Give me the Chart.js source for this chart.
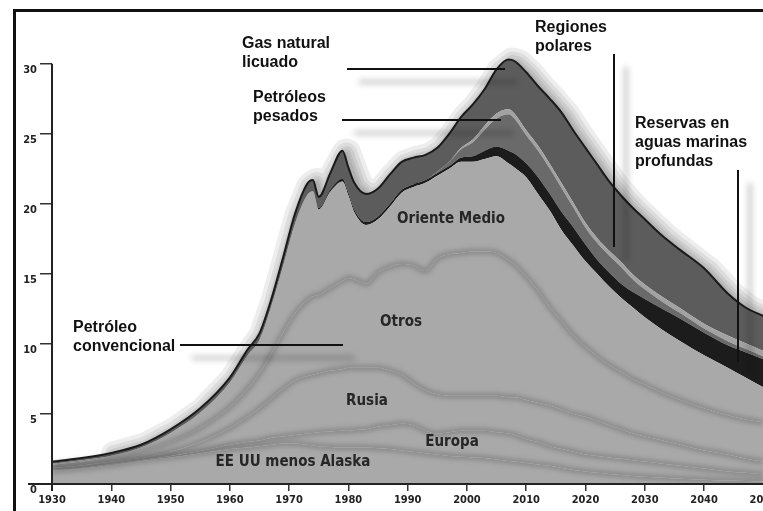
<!DOCTYPE html>
<html lang="es">
<head>
<meta charset="UTF-8">
<title>Producción mundial de petróleo</title>
<script src="https://cdn.jsdelivr.net/npm/chart.js"></script>
<style>
  html, body { margin: 0; padding: 0; overflow: hidden; background: #fff; }
  #wrap { width: 790px; height: 511px; }
</style>
</head>
<body>
<div id="wrap"><canvas id="petroleoChart" width="790" height="511"></canvas></div>
<script>
// Años del eje x
const anios = [1930, 1935, 1940, 1945, 1950, 1955, 1960, 1963, 1965, 1967, 1969, 1971, 1973, 1974, 1975, 1977, 1979,
  1980, 1981, 1983, 1985, 1987, 1989, 1991, 1993, 1995, 1997, 1999, 2001, 2003, 2005, 2007, 2008,
  2010, 2012, 2014, 2016, 2018, 2020, 2022, 2024, 2026, 2028, 2030, 2033, 2036, 2040, 2044, 2047, 2050];

// Petróleo convencional, por región (miles de millones de barriles al año)
const eeuuMenosAlaska = [0.95, 1.1, 1.35, 1.65, 1.9, 2.2, 2.5, 2.6, 2.7, 2.8, 2.9, 2.9, 2.8, 2.75, 2.7, 2.65, 2.6,
  2.6, 2.6, 2.6, 2.55, 2.5, 2.4, 2.3, 2.2, 2.1, 2.0, 1.95, 1.9, 1.85, 1.75, 1.65, 1.6,
  1.5, 1.4, 1.3, 1.15, 1.0, 0.9, 0.8, 0.72, 0.65, 0.58, 0.52, 0.45, 0.38, 0.3, 0.25, 0.22, 0.2];
const europa = [0.05, 0.05, 0.07, 0.07, 0.1, 0.15, 0.3, 0.4, 0.4, 0.5, 0.5, 0.6, 0.8, 0.9, 1.0, 1.1, 1.2,
  1.2, 1.25, 1.3, 1.55, 1.7, 1.9, 1.9, 1.6, 1.5, 1.7, 1.85, 1.9, 1.95, 1.95, 1.95, 1.9,
  1.7, 1.6, 1.4, 1.35, 1.3, 1.2, 1.2, 1.18, 1.15, 1.12, 1.08, 1.0, 0.92, 0.8, 0.65, 0.58, 0.5];
const rusia = [0.15, 0.17, 0.18, 0.13, 0.3, 0.65, 1.2, 1.8, 2.3, 2.8, 3.4, 3.9, 4.1, 4.15, 4.2, 4.35, 4.4,
  4.5, 4.45, 4.4, 4.2, 3.9, 3.5, 3.0, 2.9, 2.8, 2.6, 2.5, 2.5, 2.5, 2.6, 2.6, 2.7,
  2.8, 2.8, 2.9, 2.8, 2.7, 2.7, 2.5, 2.3, 2.1, 1.9, 1.8, 1.65, 1.5, 1.3, 1.2, 1.0, 0.9];
const otros = [0.23, 0.28, 0.3, 0.5, 0.7, 1.0, 1.5, 2.0, 2.5, 3.2, 4.0, 4.8, 5.4, 5.6, 5.6, 5.9, 6.3,
  6.4, 6.3, 6.0, 6.8, 7.4, 7.9, 8.4, 8.5, 9.7, 10.1, 10.2, 10.3, 10.3, 10.2, 9.8, 9.5,
  8.8, 8.0, 7.0, 6.3, 5.6, 5.0, 4.6, 4.3, 4.1, 3.9, 3.7, 3.4, 3.2, 3.0, 2.8, 2.8, 2.8];
const orienteMedio = [0.07, 0.1, 0.12, 0.25, 0.65, 1.1, 1.75, 2.4, 2.4, 3.4, 4.8, 6.4, 7.5, 7.5, 6.1, 6.9, 7.1,
  5.9, 4.8, 4.2, 3.8, 4.3, 5.1, 5.6, 6.3, 5.9, 6.1, 6.5, 6.4, 6.6, 6.9, 6.9, 6.9,
  7.1, 6.9, 6.9, 6.5, 6.4, 6.1, 5.9, 5.6, 5.3, 5.1, 4.8, 4.5, 4.2, 3.8, 3.4, 3.0, 2.5];

// Petróleo no convencional
const aguasProfundas = [0, 0, 0, 0, 0, 0, 0, 0, 0, 0, 0, 0, 0, 0, 0.1, 0.15, 0.2,
  0.2, 0.2, 0.2, 0.2, 0.2, 0.2, 0.2, 0.2, 0.2, 0.2, 0.3, 0.4, 0.6, 0.7, 0.9, 1.0,
  1.0, 1.2, 1.2, 1.3, 1.3, 1.2, 1.0, 1.0, 1.0, 1.1, 1.3, 1.5, 1.6, 1.6, 1.6, 1.8, 2.0];
const pesados = [0, 0, 0, 0, 0, 0, 0, 0, 0, 0, 0, 0, 0, 0, 0, 0, 0,
  0, 0, 0, 0, 0, 0, 0, 0, 0.1, 0.3, 0.6, 1.0, 1.5, 2.0, 2.6, 2.5,
  2.0, 1.9, 1.8, 1.7, 1.4, 1.2, 1.2, 1.2, 1.2, 0.9, 0.7, 0.5, 0.4, 0.3, 0.3, 0.25, 0.2];
const polares = [0, 0, 0, 0, 0, 0, 0, 0, 0, 0, 0, 0, 0, 0, 0, 0, 0,
  0, 0, 0, 0, 0, 0, 0, 0, 0, 0, 0.1, 0.2, 0.3, 0.35, 0.35, 0.35,
  0.35, 0.35, 0.35, 0.35, 0.35, 0.35, 0.35, 0.35, 0.35, 0.35, 0.35, 0.35, 0.35, 0.35, 0.4, 0.4, 0.4];
const gasNatural = [0.15, 0.15, 0.2, 0.2, 0.25, 0.3, 0.35, 0.4, 0.45, 0.5, 0.6, 0.7, 0.8, 0.8, 0.8, 1.2, 2.0,
  1.8, 1.9, 2.0, 2.0, 2.1, 2.0, 1.9, 1.8, 1.7, 2.0, 2.2, 2.5, 2.6, 3.15, 3.55, 3.75,
  4.15, 4.25, 4.65, 5.05, 5.15, 5.35, 5.25, 4.95, 4.75, 4.75, 4.65, 4.35, 4.15, 3.95, 3.0, 2.55, 2.5];

// Ejes
const ticksY = [0, 5, 10, 15, 20, 25, 30];
const ticksX = [1930, 1940, 1950, 1960, 1970, 1980, 1990, 2000, 2010, 2020, 2030, 2040, 2050];

// capas de abajo hacia arriba
const capas = [
  { label: 'EE UU menos Alaska', data: eeuuMenosAlaska, fondo: '#a9a9a9', borde: 'rgba(60,60,60,0.32)', ancho: 5 },
  { label: 'Europa', data: europa, fondo: '#a9a9a9', borde: 'rgba(60,60,60,0.32)', ancho: 5 },
  { label: 'Rusia', data: rusia, fondo: '#a9a9a9', borde: 'rgba(60,60,60,0.32)', ancho: 5 },
  { label: 'Otros', data: otros, fondo: '#a9a9a9', borde: 'rgba(60,60,60,0.32)', ancho: 5 },
  { label: 'Oriente Medio', data: orienteMedio, fondo: '#a9a9a9', borde: 'rgba(0,0,0,0)', ancho: 0 },
  { label: 'Reservas en aguas marinas profundas', data: aguasProfundas, fondo: '#1c1c1c', borde: 'rgba(0,0,0,0)', ancho: 0 },
  { label: 'Petróleos pesados', data: pesados, fondo: '#6a6a6a', borde: 'rgba(0,0,0,0)', ancho: 0 },
  { label: 'Regiones polares', data: polares, fondo: '#a2a2a2', borde: 'rgba(0,0,0,0)', ancho: 0 },
  { label: 'Gas natural licuado', data: gasNatural, fondo: '#5c5c5c', borde: '#1a1a1a', ancho: 2 }
];
const suaves = 4; // las cuatro primeras llevan borde difuminado

const datasets = capas.map((c, i) => ({
  label: c.label,
  data: anios.map((a, j) => ({ x: a, y: c.data[j] })),
  backgroundColor: c.fondo,
  borderColor: c.borde,
  borderWidth: c.ancho,
  fill: i === 0 ? 'origin' : '-1',
  pointRadius: 0,
  pointHoverRadius: 0,
  cubicInterpolationMode: 'monotone'
}));

// textos del gráfico
const etiquetasRegion = [
  { t: 'Oriente Medio', x: 451, y: 219 },
  { t: 'Otros', x: 401, y: 322 },
  { t: 'Rusia', x: 367, y: 401 },
  { t: 'Europa', x: 452, y: 442 },
  { t: 'EE UU menos Alaska', x: 293, y: 462 }
];
const notas = [
  { lineas: ['Gas natural', 'licuado'], x: 242, y: 48, flecha: [347, 69, 505, 69] },
  { lineas: ['Petróleos', 'pesados'], x: 253, y: 102, flecha: [342, 120, 501, 120] },
  { lineas: ['Regiones', 'polares'], x: 535, y: 32, flecha: [614, 54, 614, 247] },
  { lineas: ['Reservas en', 'aguas marinas', 'profundas'], x: 635, y: 128, flecha: [738, 170, 738, 362] },
  { lineas: ['Petróleo', 'convencional'], x: 73, y: 332, flecha: [180, 345, 343, 345] }
];

const decorado = {
  id: 'decorado',
  afterDatasetsDraw(chart) {
    // halo gris alrededor del contorno superior, pintado por detrás de las áreas
    const ctx = chart.ctx;
    const pts = chart.getDatasetMeta(capas.length - 1).data;
    ctx.save();
    ctx.globalCompositeOperation = 'destination-over';
    ctx.lineJoin = 'round';
    ctx.lineCap = 'round';
    ctx.strokeStyle = 'rgba(0,0,0,0.07)';
    [30, 22, 15, 9, 4].forEach(w => {
      ctx.lineWidth = w;
      ctx.beginPath();
      ctx.moveTo(pts[2].x + 4, pts[2].y + 3);
      for (let i = 3; i < pts.length; i++) ctx.lineTo(pts[i].x + 4, pts[i].y + 3);
      ctx.stroke();
    });
    ctx.restore();
  },
  beforeDatasetDraw(chart, args) {
    if (args.index < suaves) {
      chart.ctx.save();
      chart.ctx.filter = 'blur(2.5px)';
    }
  },
  afterDatasetDraw(chart, args) {
    if (args.index < suaves) chart.ctx.restore();
  },
  afterDraw(chart) {
    const ctx = chart.ctx;
    const x = chart.scales.x, y = chart.scales.y;
    ctx.save();

    // ejes
    ctx.strokeStyle = '#222';
    ctx.lineWidth = 2;
    ctx.beginPath();
    ctx.moveTo(28, y.getPixelForValue(0));
    ctx.lineTo(chart.width, y.getPixelForValue(0));
    ctx.moveTo(x.getPixelForValue(1930), y.getPixelForValue(30));
    ctx.lineTo(x.getPixelForValue(1930), y.getPixelForValue(0) + 7);
    ctx.stroke();

    // marco
    ctx.fillStyle = '#111';
    ctx.fillRect(13, 9, 3, chart.height);
    ctx.fillRect(13, 9, chart.width, 3);

    // nombres de las regiones
    ctx.fillStyle = '#262626';
    ctx.font = 'bold 15px "Liberation Sans Narrow", "DejaVu Sans Condensed", sans-serif';
    ctx.textAlign = 'center';
    ctx.textBaseline = 'middle';
    etiquetasRegion.forEach(e => ctx.fillText(e.t, e.x, e.y));

    // notas con su línea y sombra
    notas.forEach(n => {
      const [x1, y1, x2, y2] = n.flecha;
      ctx.save();
      ctx.shadowColor = 'rgba(0,0,0,0.45)';
      ctx.shadowBlur = 6;
      ctx.shadowOffsetX = 12;
      ctx.shadowOffsetY = 13;
      ctx.strokeStyle = '#111';
      ctx.lineWidth = 2;
      ctx.beginPath();
      ctx.moveTo(x1, y1);
      ctx.lineTo(x2, y2);
      ctx.stroke();
      ctx.restore();

      ctx.fillStyle = '#111';
      ctx.font = 'bold 16px "Liberation Sans", Arial, sans-serif';
      ctx.textAlign = 'left';
      ctx.textBaseline = 'alphabetic';
      n.lineas.forEach((l, k) => ctx.fillText(l, n.x, n.y + k * 19));
    });
    ctx.restore();
  }
};

new Chart(document.getElementById('petroleoChart'), {
  type: 'line',
  data: { datasets },
  options: {
    responsive: false,
    animation: false,
    events: [],
    layout: { padding: { top: 54, left: 0, right: 0, bottom: 0 } },
    plugins: {
      legend: { display: false },
      tooltip: { enabled: false }
    },
    scales: {
      x: {
        type: 'linear',
        min: 1930,
        max: 2054.5,
        border: { display: false },
        grid: { drawOnChartArea: false, tickLength: 7, color: '#333', lineWidth: 1.5 },
        afterBuildTicks: s => { s.ticks = ticksX.map(v => ({ value: v })); },
        afterFit: s => { s.height = 27; },
        ticks: {
          autoSkip: false,
          maxRotation: 0,
          padding: 3,
          color: '#222',
          font: { family: '"Liberation Sans Narrow", "DejaVu Sans Condensed", sans-serif', size: 11, weight: 'bold' },
          callback: v => String(v)
        }
      },
      y: {
        stacked: true,
        min: 0,
        max: 30.7,
        border: { display: false },
        grid: { drawOnChartArea: false, tickLength: 12, color: '#333', lineWidth: 1.5 },
        afterBuildTicks: s => { s.ticks = ticksY.map(v => ({ value: v })); },
        afterFit: s => { s.width = 52; },
        ticks: {
          padding: 3,
          labelOffset: 6,
          color: '#222',
          font: { family: '"Liberation Sans Narrow", "DejaVu Sans Condensed", sans-serif', size: 11, weight: 'bold' },
          callback: v => String(v)
        }
      }
    }
  },
  plugins: [decorado]
});
</script>
</body>
</html>
